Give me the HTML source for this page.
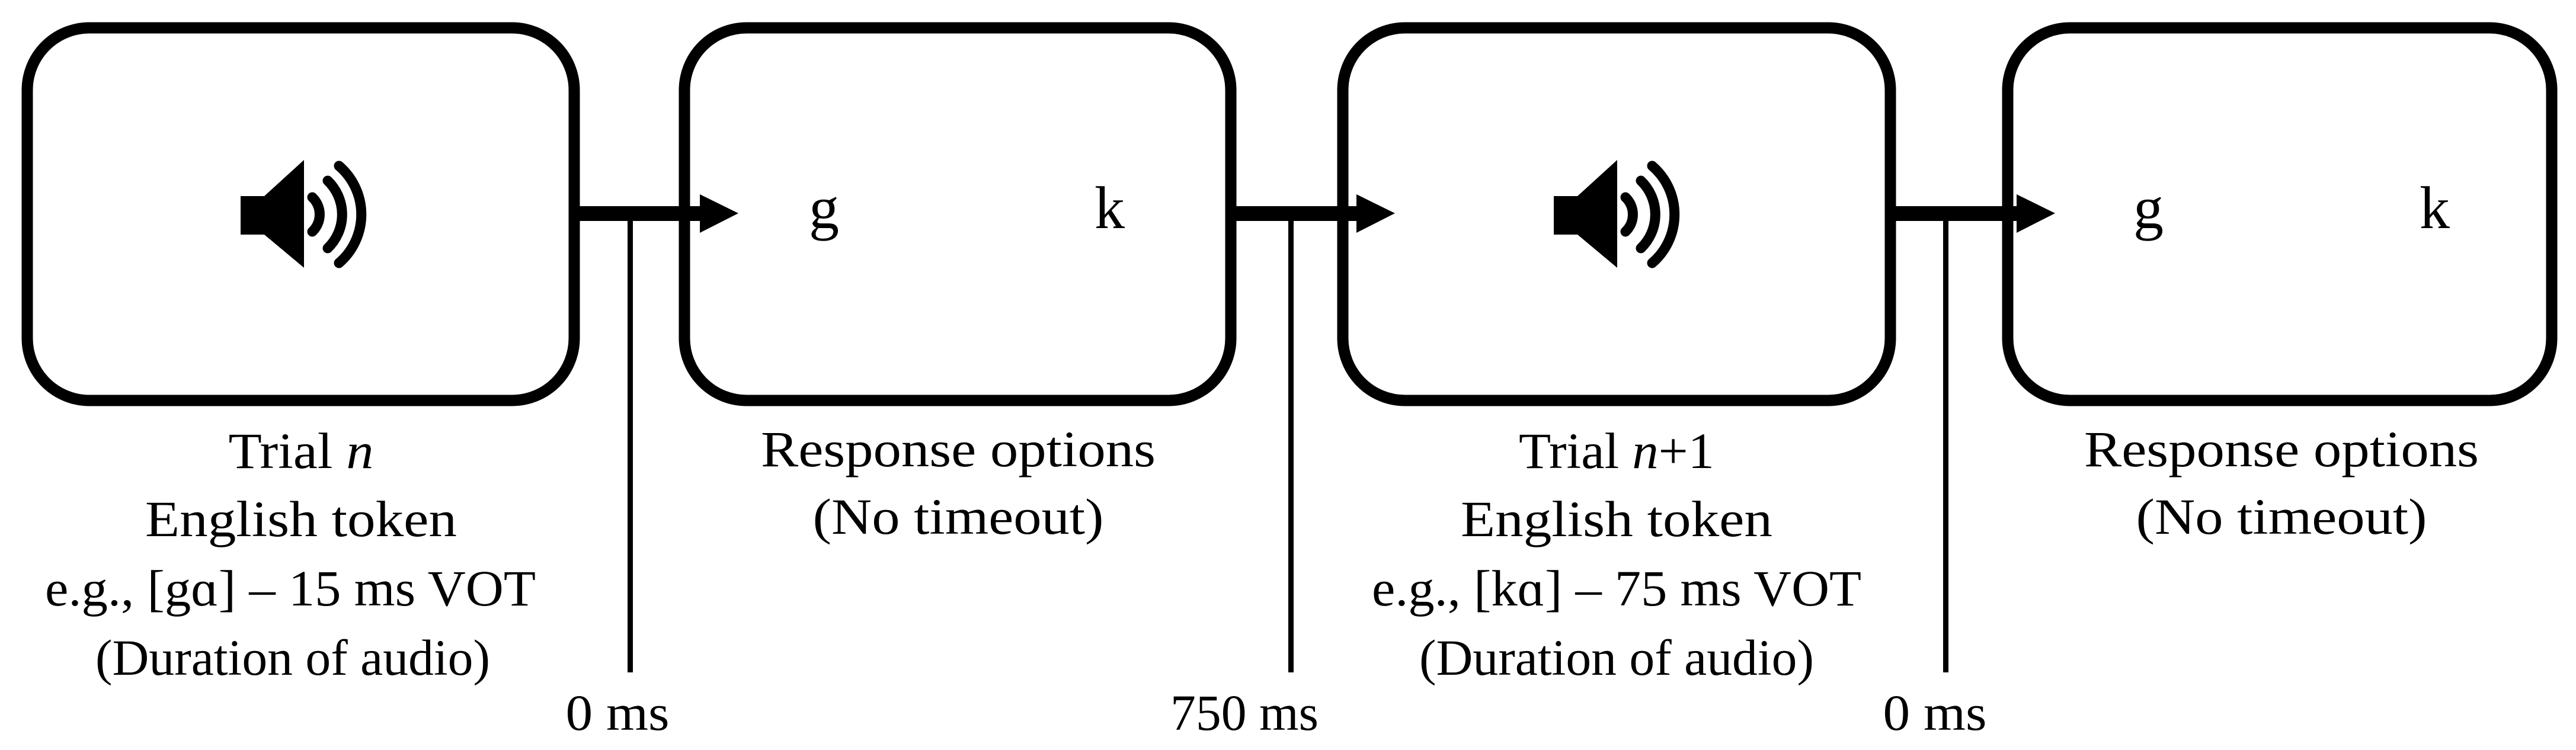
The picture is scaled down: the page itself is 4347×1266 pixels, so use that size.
<!DOCTYPE html>
<html><head><meta charset="utf-8"><style>html,body{margin:0;padding:0;background:#fff}svg{display:block}text{font-family:"Liberation Serif",serif;fill:#000}</style></head>
<body>
<svg width="4347" height="1266" viewBox="0 0 4347 1266" xmlns="http://www.w3.org/2000/svg">
<defs>
<g id="spk">
<path d="M406,331 L446,331 L513,270 L513,452 L446,396 L406,396 Z" fill="#000"/>
<g fill="none" stroke="#000" stroke-width="17" stroke-linecap="round">
<path d="M527,333 A40,40 0 0 1 527,391"/>
<path d="M553,305 A79,79 0 0 1 553,419"/>
<path d="M572,280 A108,108 0 0 1 572,444"/>
</g>
</g>
</defs>
<g fill="none" stroke="#000" stroke-width="19">
<rect x="46" y="47" width="923" height="629" rx="105"/>
<rect x="1155" y="47" width="922" height="629" rx="105"/>
<rect x="2266" y="47" width="924" height="629" rx="105"/>
<rect x="3388" y="47" width="918" height="629" rx="105"/>
</g>
<use href="#spk"/>
<use href="#spk" transform="translate(2216,0)"/>
<g fill="#000">
<rect x="969" y="348" width="220" height="25"/>
<path d="M1181,328 L1246,360 L1181,393 Z"/>
<rect x="2077" y="348" width="220" height="25"/>
<path d="M2289,328 L2354,360 L2289,393 Z"/>
<rect x="3190" y="348" width="220" height="25"/>
<path d="M3403,328 L3468,360 L3403,393 Z"/>
<rect x="1059" y="360" width="9" height="775"/>
<rect x="2174" y="360" width="9" height="775"/>
<rect x="3279" y="360" width="9" height="775"/>
</g>
<g font-size="102">
<text x="1365" y="385">g</text><text x="1847" y="385">k</text>
<text x="3600" y="385">g</text><text x="4083" y="385">k</text>
</g>
<g font-size="86" text-anchor="middle">
<text x="508" y="790" textLength="245" lengthAdjust="spacingAndGlyphs">Trial <tspan font-style="italic">n</tspan></text>
<text x="508" y="905" textLength="526" lengthAdjust="spacingAndGlyphs">English token</text>
<text x="490" y="1022" textLength="828" lengthAdjust="spacingAndGlyphs">e.g., [gɑ] – 15 ms VOT</text>
<text x="494" y="1139" textLength="666" lengthAdjust="spacingAndGlyphs">(Duration of audio)</text>
<text x="1617" y="787" textLength="666" lengthAdjust="spacingAndGlyphs">Response options</text>
<text x="1617" y="901" textLength="491" lengthAdjust="spacingAndGlyphs">(No timeout)</text>
<text x="2728" y="790" textLength="330" lengthAdjust="spacingAndGlyphs">Trial <tspan font-style="italic">n</tspan>+1</text>
<text x="2728" y="905" textLength="526" lengthAdjust="spacingAndGlyphs">English token</text>
<text x="2728" y="1022" textLength="826" lengthAdjust="spacingAndGlyphs">e.g., [kɑ] – 75 ms VOT</text>
<text x="2728" y="1139" textLength="666" lengthAdjust="spacingAndGlyphs">(Duration of audio)</text>
<text x="3850" y="787" textLength="666" lengthAdjust="spacingAndGlyphs">Response options</text>
<text x="3850" y="901" textLength="491" lengthAdjust="spacingAndGlyphs">(No timeout)</text>
<text x="1042" y="1232" textLength="175" lengthAdjust="spacingAndGlyphs">0 ms</text>
<text x="2100" y="1232" textLength="250" lengthAdjust="spacingAndGlyphs">750 ms</text>
<text x="3265" y="1232" textLength="175" lengthAdjust="spacingAndGlyphs">0 ms</text>
</g>
</svg>
</body></html>
